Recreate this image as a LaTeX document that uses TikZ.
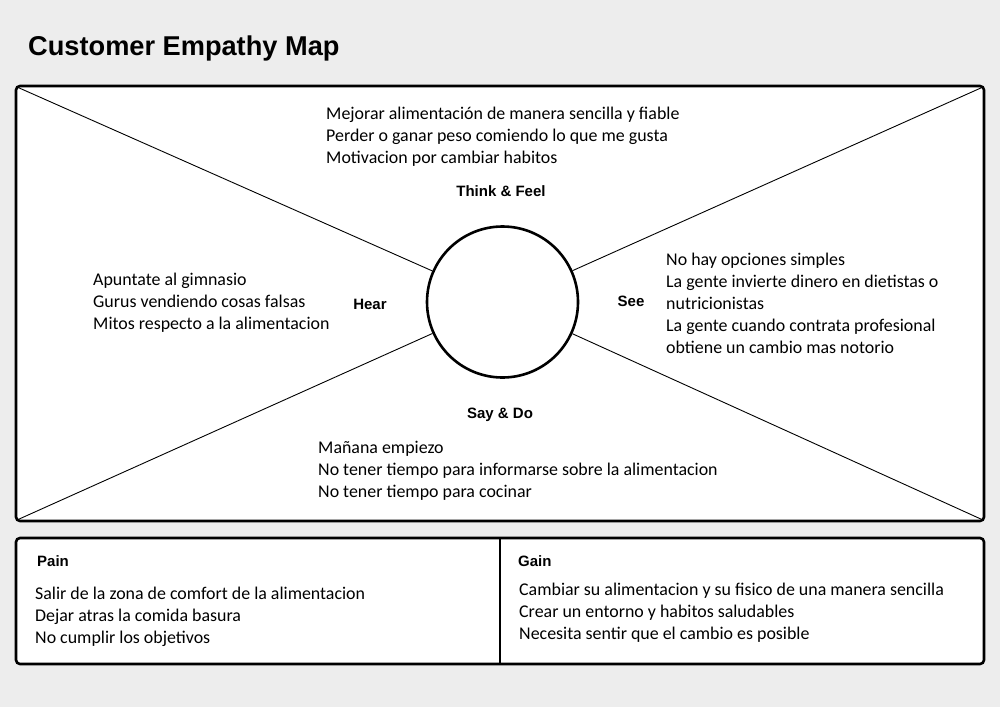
\documentclass[tikz,border=0pt]{standalone}
\usepackage{fontspec}
\setmainfont{Carlito}
\newfontfamily\labfont{Liberation Sans}
\definecolor{bggray}{HTML}{EDEDED}
\tikzset{
  frame/.style={draw=black, line width=2.6pt, rounded corners=4pt, fill=white},
  ray/.style={draw=black, line width=0.9pt},
  body/.style={anchor=base west, inner sep=0pt, align=left, font=\fontsize{17.9}{22}\selectfont},
  lab/.style={inner sep=0pt, font=\labfont\bfseries\fontsize{15}{17}\selectfont},
}
\begin{document}
\begin{tikzpicture}[x=1pt,y=-1pt]
\fill[bggray] (0,0) rectangle (1000,707);
\useasboundingbox (0,0) rectangle (1000,707);
\node[anchor=base west, inner sep=0pt, font=\labfont\bfseries\fontsize{27.2}{30}\selectfont] (title) at (28,55) {Customer Empathy Map};
% main frame
\draw[frame] (16,86) rectangle (984,521);
\coordinate (tl) at (17,87);
\coordinate (tr) at (983,87);
\coordinate (bl) at (17,520);
\coordinate (br) at (983,520);
\node[circle, draw=black, line width=2.6pt, fill=white, minimum size=151pt, inner sep=0pt] (c) at (502.5,302) {};
\draw[ray] (tl) -- (c);
\draw[ray] (tr) -- (c);
\draw[ray] (bl) -- (c);
\draw[ray] (br) -- (c);
% labels
\node[lab] (think) at (501,191) {Think \& Feel};
\node[lab] (hear) at (370,304) {Hear};
\node[lab] (see) at (631,301) {See};
\node[lab] (say) at (500,415) {Say \& Do};
% texts (base anchor = baseline of last line)
\node[body] (ttop) at (326,163) {Mejorar alimentación de manera sencilla y fiable\\Perder o ganar peso comiendo lo que me gusta\\Motivacion por cambiar habitos};
\node[body] (tleft) at (93,329) {Apuntate al gimnasio\\Gurus vendiendo cosas falsas\\Mitos respecto a la alimentacion};
\node[body] (tright) at (666,353) {No hay opciones simples\\La gente invierte dinero en dietistas o\\nutricionistas\\La gente cuando contrata profesional\\obtiene un cambio mas notorio};
\node[body] (tbottom) at (318,497) {Mañana empiezo\\No tener tiempo para informarse sobre la alimentacion\\No tener tiempo para cocinar};
% bottom box
\draw[frame] (16,538) rectangle (984,664);
\coordinate (dtop) at (500,539);
\coordinate (dbot) at (500,664);
\draw[draw=black, line width=1.2pt] (dtop) -- (dbot);
\node[lab, anchor=west] (pain) at (37,561) {Pain};
\node[lab, anchor=west] (gain) at (518,561) {Gain};
\node[body] (tpain) at (35,643) {Salir de la zona de comfort de la alimentacion\\Dejar atras la comida basura\\No cumplir los objetivos};
\node[body] (tgain) at (519,639) {Cambiar su alimentacion y su fisico de una manera sencilla\\Crear un entorno y habitos saludables\\Necesita sentir que el cambio es posible};
\end{tikzpicture}
\end{document}
